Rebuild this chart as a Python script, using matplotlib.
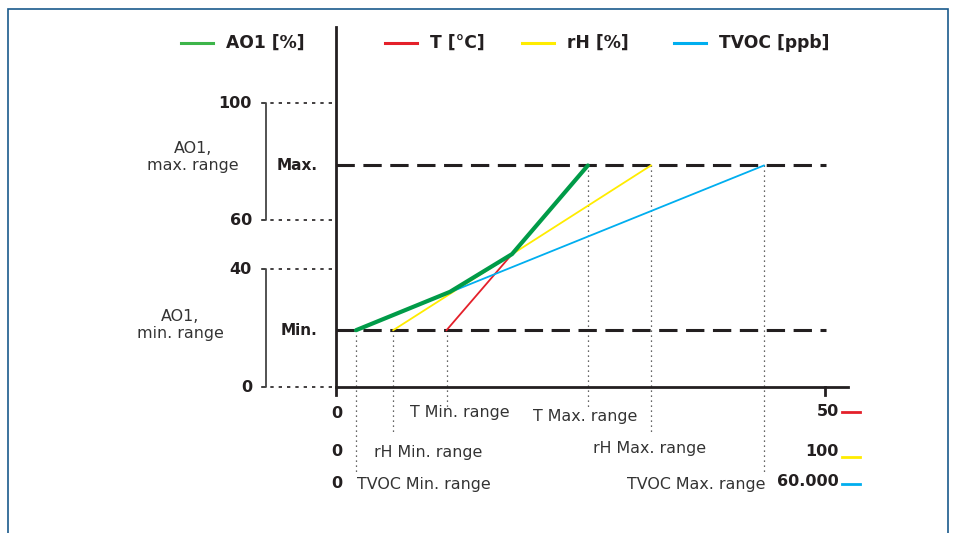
import matplotlib
matplotlib.use("Agg")
import matplotlib.pyplot as plt
from matplotlib.patches import Rectangle

# sensors mapped onto the analog output AO1
sensors = ["T [°C]", "rH [%]", "TVOC [ppb]"]
short = ["T", "rH", "TVOC"]
full_scale = [50, 100, 60000]
full_labels = ["50", "100", "60.000"]
min_range = [11.3, 11.7, 2450]
max_range = [25.8, 64.4, 52500]
colors = ["#e4202a", "#ffec00", "#00aeef"]

# AO1 levels (schematic)
ao1_min, ao1_max = 20, 78
ao1_ticks = ["0", "40", "60", "100"]
ao1_tick_pos = [0, 41.5, 58.8, 100]
# AO1 output = upper envelope of the three sensors (share of full scale)
ao1_x = [0.041, 0.233, 0.360, 0.515]
ao1_y = [20, 33.5, 46.8, 78]

W, H = 954, 533
X0, X1 = 336, 825      # pixel of 0 and full scale
Y0, Y100 = 387, 103    # pixel of 0 % and 100 %
sy = (Y0 - Y100) / 100.0
ink = "#231f20"

def yv(py):
    return (Y0 - py) / sy

fig = plt.figure(figsize=(W / 100, H / 100), dpi=100)
ax = fig.add_axes([0, 0, 1, 1])
ax.set_xlim(-X0 / (X1 - X0), (W - X0) / (X1 - X0))
ax.set_ylim(yv(H), yv(0))
ax.axis("off")
lay = fig.add_axes([0, 0, 1, 1], zorder=-1)
lay.set_xlim(0, W)
lay.set_ylim(H, 0)
lay.axis("off")

# frame
fig.patches.append(Rectangle((8 / W, -0.05), 940 / W, (H - 9) / H + 0.05,
                             transform=fig.transFigure, fill=False,
                             edgecolor="#1a5a8c", lw=1.2))

# axes lines
ax.plot([0, 0], [yv(395), yv(27)], color=ink, lw=2)
ax.plot([0, (848 - X0) / (X1 - X0)], [0, 0], color=ink, lw=2)
ax.plot([1, 1], [0, yv(395)], color=ink, lw=2)

# Min / Max dashed levels
for lvl in (ao1_min, ao1_max):
    ax.plot([0, 1.003], [lvl, lvl], color=ink, lw=2.2, dashes=(6, 2.8))

# dotted level lines and range brackets
xb = -(X0 - 266) / (X1 - X0)
xt = -(X0 - 262) / (X1 - X0)
for lab, pos in zip(ao1_ticks, ao1_tick_pos):
    ax.plot([xt, 0], [pos, pos], color=ink, lw=1.2, ls=(0, (2, 3)))
    lay.text(252, Y0 - pos * sy, lab, ha="right", va="center",
             fontsize=11.5, fontweight="bold", color=ink)
for lo, hi in ((ao1_tick_pos[0], ao1_tick_pos[1]), (ao1_tick_pos[2], ao1_tick_pos[3])):
    ax.plot([xt, xb, xb, xt], [hi, hi, lo, lo], color="#444444", lw=1.3)

lay.text(193, 157, "AO1,\nmax. range", ha="center", va="center",
         fontsize=11.4, color="#333333", linespacing=1.2)
lay.text(180, 325, "AO1,\nmin. range", ha="center", va="center",
         fontsize=11.4, color="#333333", linespacing=1.2)
lay.text(277, Y0 - ao1_max * sy, "Max.", ha="left", va="center",
         fontsize=11, fontweight="bold", color=ink)
lay.text(281, Y0 - ao1_min * sy, "Min.", ha="left", va="center",
         fontsize=11, fontweight="bold", color=ink)

# sensor lines and their range markers
drop = [407, 433, 473]
row_y = [413, 452, 484]
min_lab_x = [410, 374, 357]
max_lab = [(533, 417), (593, 449), (627, 484)]
for i in range(3):
    xa = min_range[i] / full_scale[i]
    xz = max_range[i] / full_scale[i]
    ax.plot([xa, xz], [ao1_min, ao1_max], color=colors[i], lw=1.3, zorder=3)
    ax.plot([xa, xa], [ao1_min, yv(drop[i])], color="#333333", lw=0.9,
            ls=(0, (1, 3)), zorder=1)
    ax.plot([xz, xz], [ao1_max, yv(drop[i])], color="#333333", lw=0.9,
            ls=(0, (1, 3)), zorder=1)
    lay.text(337, row_y[i], "0", ha="center", va="center", fontsize=11.5,
             fontweight="bold", color=ink)
    lay.text(min_lab_x[i], row_y[i], short[i] + " Min. range", ha="left",
             va="center", fontsize=11.4, color="#333333")
    lay.text(max_lab[i][0], max_lab[i][1], short[i] + " Max. range", ha="left",
             va="center", fontsize=11.4, color="#333333")
    lay.text(839, [412, 452, 482][i], full_labels[i], ha="right", va="center",
             fontsize=11.5, fontweight="bold", color=ink)
    lay.plot([842, 860], [[412, 457, 484][i]] * 2, color=colors[i], lw=2)

ax.plot(ao1_x, ao1_y, color="#009b48", lw=3, zorder=4, solid_capstyle="round")

# legend
leg = [("AO1 [%]", "#3db54a", 181), ("T [°C]", colors[0], 385),
       ("rH [%]", colors[1], 522), ("TVOC [ppb]", colors[2], 674)]
for lab, c, x in leg:
    lay.plot([x, x + 32], [43, 43], color=c, lw=2.2)
    lay.text(x + 45, 43, lab, ha="left", va="center", fontsize=12.3,
             fontweight="bold", color=ink)

fig.savefig("out.png", dpi=100)
